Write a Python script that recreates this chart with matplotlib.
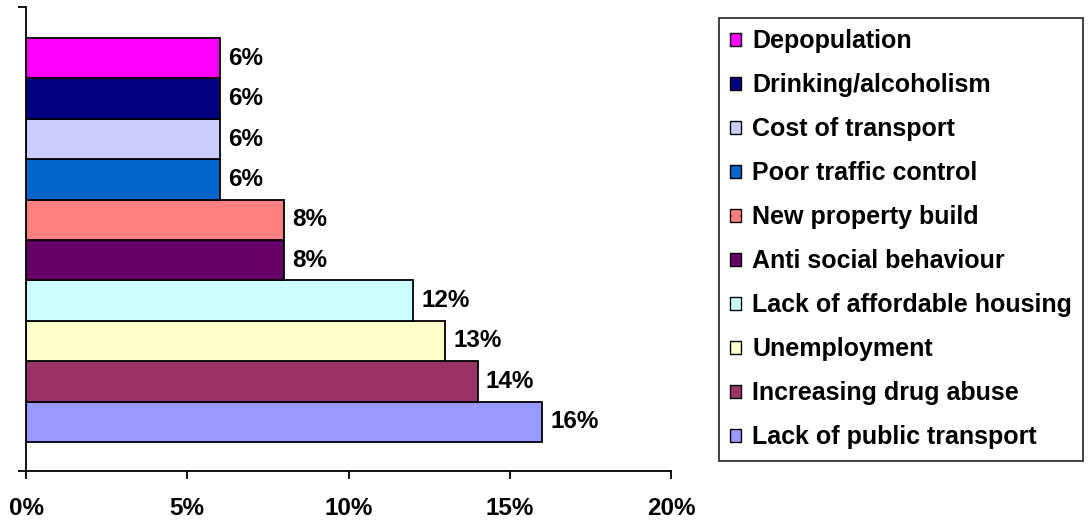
import matplotlib
matplotlib.use('Agg')
import matplotlib.pyplot as plt

# data, bottom bar first
issues = ['Lack of public transport', 'Increasing drug abuse', 'Unemployment',
          'Lack of affordable housing', 'Anti social behaviour', 'New property build',
          'Poor traffic control', 'Cost of transport', 'Drinking/alcoholism', 'Depopulation']
percent = [16, 14, 13, 12, 8, 8, 6, 6, 6, 6]
colors = ['#9999FF', '#993366', '#FFFFCC', '#CCFFFF', '#660066', '#FF8080',
          '#0066CC', '#CCCCFF', '#000080', '#FF00FF']
xticks = [0, 5, 10, 15, 20]

plt.rcParams['font.family'] = 'Liberation Sans'
plt.rcParams['font.weight'] = 'bold'

fig = plt.figure(figsize=(10.88, 5.21), dpi=100)
ax = fig.add_axes([26 / 1088, 1 - 471 / 521, 645 / 1088, 464 / 521])

bars = []
for i, (name, val, c) in enumerate(zip(issues, percent, colors)):
    b = ax.barh(i, val, height=1.0, color=c, edgecolor='black', linewidth=1.3, label=name)
    ax.bar_label(b, labels=[f'{val}%'], padding=6, fontsize=17.5, fontweight='bold')
    bars.append(b)

ax.set_xlim(0, 20)
ax.set_ylim(-1.22, 10.27)
ax.set_xticks(xticks)
ax.set_xticklabels([f'{t}%' for t in xticks], fontsize=17.5, fontweight='bold')
ax.set_yticks([-1.22, 10.27])
ax.set_yticklabels([])
ax.tick_params(axis='x', direction='out', length=6, width=1.3, pad=13)
ax.tick_params(axis='y', direction='out', length=6, width=1.3)
for s in ['top', 'right']:
    ax.spines[s].set_visible(False)
for s in ['left', 'bottom']:
    ax.spines[s].set_linewidth(1.3)

# legend: top entry first
handles = bars[::-1]
leg = fig.legend(handles, issues[::-1], loc='upper left',
                 bbox_to_anchor=(719 / 1088, 1 - 18 / 521), borderaxespad=0,
                 fontsize=18, frameon=True, fancybox=False, edgecolor='black',
                 handlelength=0.42, handleheight=0.42, handletextpad=0.45,
                 labelspacing=0.8, borderpad=0.45)
leg.get_frame().set_linewidth(1.3)
for t in leg.get_texts():
    t.set_fontweight('bold')
for h in leg.legend_handles:
    h.set_linewidth(1.0)

fig.savefig('out.png', dpi=100)
